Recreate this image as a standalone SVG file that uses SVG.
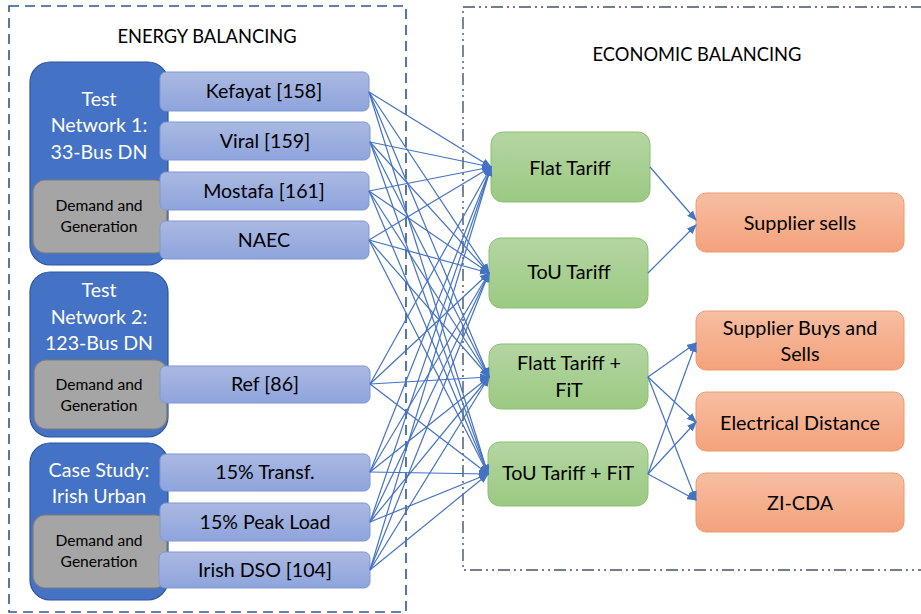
<svg xmlns="http://www.w3.org/2000/svg" width="921" height="614" viewBox="0 0 921 614">
<style>
text{font-family:Lato,"Liberation Sans",sans-serif;text-anchor:middle;fill:#000}
.title{font-size:18.3px}
.cont{fill:#4472c4;stroke:#2f5597;stroke-width:1.2}
.ct{fill:#fff;font-size:19.6px}
.gray{fill:#a5a5a5;stroke:#7a7a7a;stroke-width:1.2}
.gt{font-size:15.6px}
.lb{fill:url(#gb);stroke:#7e97d3;stroke-width:1}
.lt{font-size:19.6px}
.gr{fill:url(#gg);stroke:#8cbf74;stroke-width:1}
.or{fill:url(#go);stroke:#ec9a6f;stroke-width:1}
.bt{font-size:19.8px}
#connectors line{stroke:#4472c4;stroke-width:1.2;marker-end:url(#arr)}
</style>
<defs>
<linearGradient id="gb" x1="0" y1="0" x2="0" y2="1"><stop offset="0" stop-color="#aab9e2"/><stop offset="1" stop-color="#8ea4dc"/></linearGradient>
<linearGradient id="gg" x1="0" y1="0" x2="0" y2="1"><stop offset="0" stop-color="#b4d6a2"/><stop offset="1" stop-color="#9bc982"/></linearGradient>
<linearGradient id="go" x1="0" y1="0" x2="0" y2="1"><stop offset="0" stop-color="#f7bea2"/><stop offset="1" stop-color="#f4a27b"/></linearGradient>
<marker id="arr" markerUnits="userSpaceOnUse" markerWidth="10" markerHeight="8" refX="9" refY="4" orient="auto"><path d="M0,0 L10,4 L0,8 z" fill="#4472c4"/></marker>
</defs>
<rect width="921" height="614" fill="#fff"/>

<g id="energy-frame">
<rect x="9" y="6" width="397" height="606" fill="none" stroke="#2f5597" stroke-width="1.6" stroke-dasharray="10,6"/>
<text class="title" x="207" y="43">ENERGY BALANCING</text>
</g>
<g id="economic-frame">
<rect x="463" y="7" width="470" height="563" fill="none" stroke="#44546a" stroke-width="1.4" stroke-dasharray="12,4,2,4,2,4"/>
<text class="title" x="697" y="61">ECONOMIC BALANCING</text>
</g>

<g id="tn1">
<rect class="cont" x="30" y="62" width="138" height="203" rx="20"/>
<text class="ct" x="99" y="106">Test</text>
<text class="ct" x="99" y="132">Network 1:</text>
<text class="ct" x="99" y="159">33-Bus DN</text>
</g>
<g id="dg1">
<rect class="gray" x="33" y="180" width="134" height="73" rx="12"/>
<text class="gt" x="99" y="211">Demand and</text>
<text class="gt" x="99" y="232">Generation</text>
</g>
<g id="tn2">
<rect class="cont" x="30" y="272" width="138" height="165" rx="20"/>
<text class="ct" x="99" y="297">Test</text>
<text class="ct" x="99" y="324">Network 2:</text>
<text class="ct" x="99" y="350">123-Bus DN</text>
</g>
<g id="dg2">
<rect class="gray" x="34" y="360" width="133" height="69" rx="12"/>
<text class="gt" x="99" y="390">Demand and</text>
<text class="gt" x="99" y="411">Generation</text>
</g>
<g id="cs">
<rect class="cont" x="30" y="443" width="138" height="157" rx="20"/>
<text class="ct" x="99" y="477">Case Study:</text>
<text class="ct" x="99" y="503">Irish Urban</text>
</g>
<g id="dg3">
<rect class="gray" x="33" y="515" width="134" height="73" rx="12"/>
<text class="gt" x="99" y="546">Demand and</text>
<text class="gt" x="99" y="567">Generation</text>
</g>

<g id="kefayat"><rect class="lb" x="160" y="72" width="209" height="39" rx="6"/><text class="lt" x="264" y="98">Kefayat [158]</text></g>
<g id="viral"><rect class="lb" x="160" y="122" width="210" height="38" rx="6"/><text class="lt" x="265" y="148">Viral [159]</text></g>
<g id="mostafa"><rect class="lb" x="160" y="172" width="209" height="38" rx="6"/><text class="lt" x="264" y="198">Mostafa [161]</text></g>
<g id="naec"><rect class="lb" x="160" y="221" width="209" height="38" rx="6"/><text class="lt" x="264" y="247">NAEC</text></g>
<g id="ref86"><rect class="lb" x="160" y="366" width="210" height="37" rx="6"/><text class="lt" x="265" y="391">Ref [86]</text></g>
<g id="transf"><rect class="lb" x="160" y="454" width="210" height="37" rx="6"/><text class="lt" x="265" y="479">15% Transf.</text></g>
<g id="peak"><rect class="lb" x="160" y="503" width="210" height="38" rx="6"/><text class="lt" x="265" y="529">15% Peak Load</text></g>
<g id="irishdso"><rect class="lb" x="159" y="552" width="211" height="36" rx="6"/><text class="lt" x="265" y="577">Irish DSO [104]</text></g>

<g id="flat"><rect class="gr" x="491" y="132" width="159" height="70" rx="12"/><text class="bt" x="570" y="175">Flat Tariff</text></g>
<g id="tou"><rect class="gr" x="489" y="238" width="159" height="70" rx="12"/><text class="bt" x="569" y="279">ToU Tariff</text></g>
<g id="flatfit"><rect class="gr" x="489" y="344" width="159" height="65" rx="12"/><text class="bt" x="569" y="370">Flatt Tariff +</text><text class="bt" x="569" y="397">FiT</text></g>
<g id="toufit"><rect class="gr" x="488" y="442" width="160" height="64" rx="12"/><text class="bt" x="568" y="480">ToU Tariff + FiT</text></g>

<g id="sells"><rect class="or" x="696" y="193" width="208" height="59" rx="10"/><text class="bt" x="800" y="230">Supplier sells</text></g>
<g id="buysells"><rect class="or" x="696" y="311" width="208" height="59" rx="10"/><text class="bt" x="800" y="335">Supplier Buys and</text><text class="bt" x="800" y="361">Sells</text></g>
<g id="elec"><rect class="or" x="696" y="392" width="208" height="59" rx="10"/><text class="bt" x="800" y="430">Electrical Distance</text></g>
<g id="zicda"><rect class="or" x="696" y="473" width="208" height="59" rx="10"/><text class="bt" x="800" y="510">ZI-CDA</text></g>

<g id="connectors">
<line x1="369" y1="92" x2="491" y2="167"/><line x1="369" y1="92" x2="489" y2="273"/><line x1="369" y1="92" x2="489" y2="377"/><line x1="369" y1="92" x2="488" y2="474"/>
<line x1="370" y1="142" x2="491" y2="167"/><line x1="370" y1="142" x2="489" y2="273"/><line x1="370" y1="142" x2="489" y2="377"/><line x1="370" y1="142" x2="488" y2="474"/>
<line x1="369" y1="191" x2="491" y2="167"/><line x1="369" y1="191" x2="489" y2="273"/><line x1="369" y1="191" x2="489" y2="377"/><line x1="369" y1="191" x2="488" y2="474"/>
<line x1="369" y1="240" x2="491" y2="167"/><line x1="369" y1="240" x2="489" y2="273"/><line x1="369" y1="240" x2="489" y2="377"/><line x1="369" y1="240" x2="488" y2="474"/>
<line x1="370" y1="384" x2="491" y2="167"/><line x1="370" y1="384" x2="489" y2="273"/><line x1="370" y1="384" x2="489" y2="377"/><line x1="370" y1="384" x2="488" y2="474"/>
<line x1="370" y1="472" x2="491" y2="167"/><line x1="370" y1="472" x2="489" y2="273"/><line x1="370" y1="472" x2="489" y2="377"/><line x1="370" y1="472" x2="488" y2="474"/>
<line x1="370" y1="522" x2="491" y2="167"/><line x1="370" y1="522" x2="489" y2="273"/><line x1="370" y1="522" x2="489" y2="377"/><line x1="370" y1="522" x2="488" y2="474"/>
<line x1="370" y1="570" x2="491" y2="167"/><line x1="370" y1="570" x2="489" y2="273"/><line x1="370" y1="570" x2="489" y2="377"/><line x1="370" y1="570" x2="488" y2="474"/>
<line x1="650" y1="167" x2="696" y2="220"/><line x1="648" y1="273" x2="696" y2="225"/>
<line x1="648" y1="377" x2="696" y2="343"/><line x1="648" y1="377" x2="696" y2="422"/><line x1="648" y1="377" x2="696" y2="500"/>
<line x1="648" y1="474" x2="696" y2="343"/><line x1="648" y1="474" x2="696" y2="422"/><line x1="648" y1="474" x2="696" y2="500"/>
</g>
</svg>
